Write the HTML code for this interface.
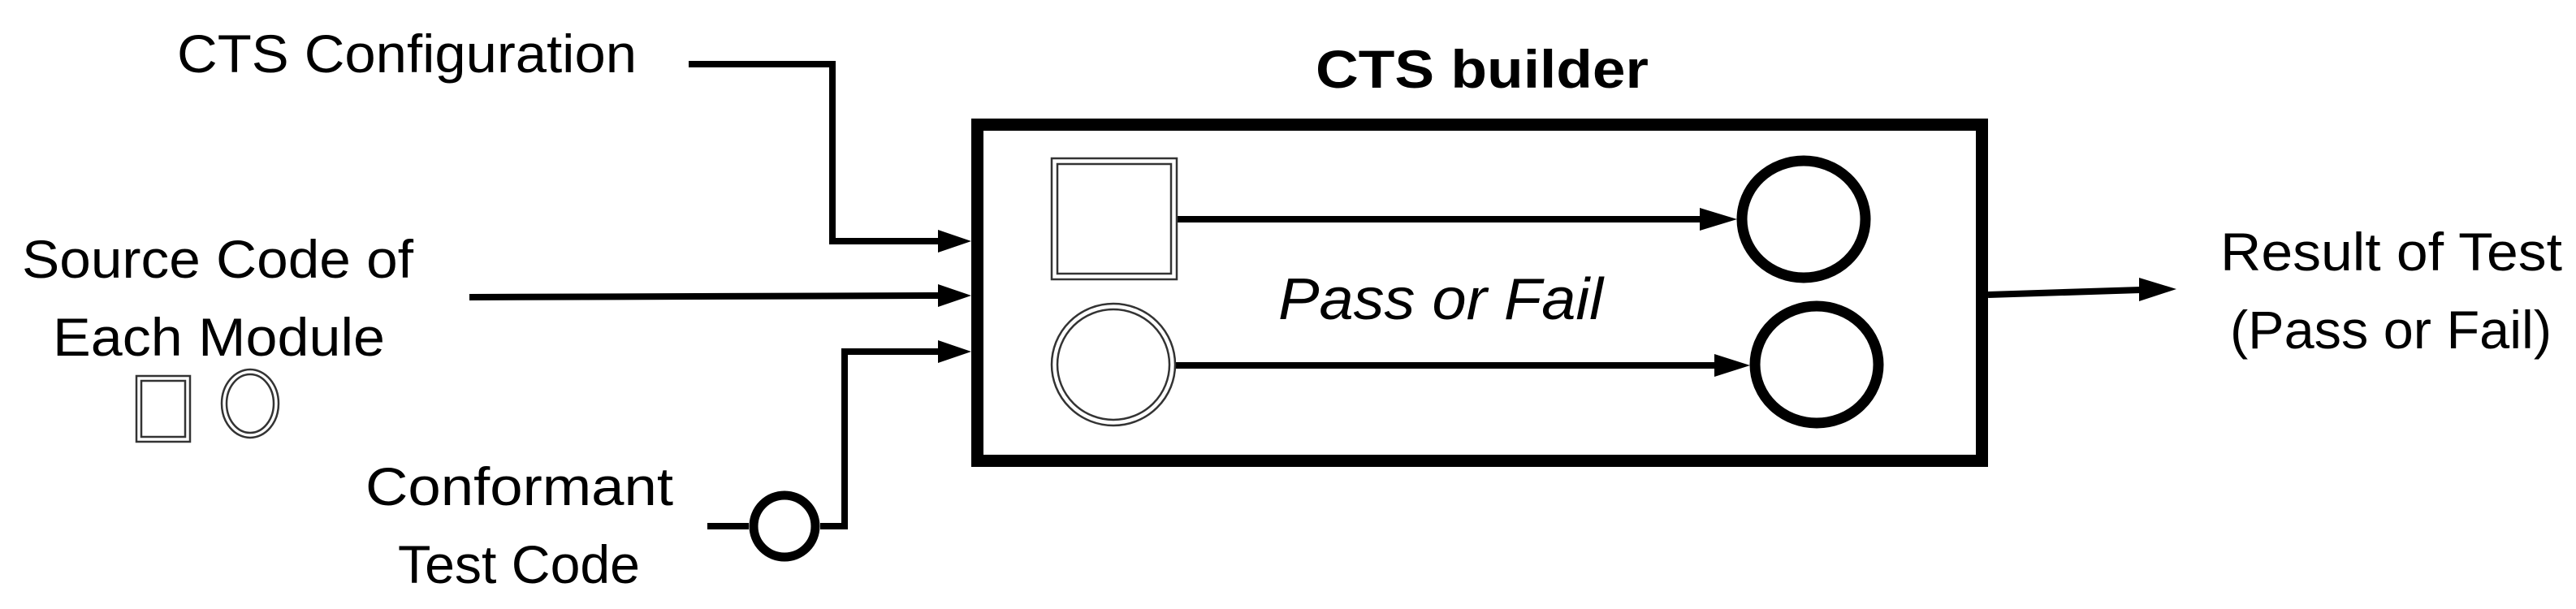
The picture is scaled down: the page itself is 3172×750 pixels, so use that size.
<!DOCTYPE html>
<html><head><meta charset="utf-8"><style>html,body{margin:0;padding:0;background:#fff}svg{display:block}</style></head>
<body>
<svg width="3172" height="750" viewBox="0 0 3172 750" xmlns="http://www.w3.org/2000/svg" font-family="'Liberation Sans', sans-serif">
<g fill="#000" font-size="66">
<text x="218" y="89" textLength="566" lengthAdjust="spacingAndGlyphs">CTS Configuration</text>
<text x="27" y="342" textLength="482" lengthAdjust="spacingAndGlyphs">Source Code of</text>
<text x="65" y="438" textLength="409" lengthAdjust="spacingAndGlyphs">Each Module</text>
<text x="450" y="622" textLength="379" lengthAdjust="spacingAndGlyphs">Conformant</text>
<text x="490" y="718" textLength="298" lengthAdjust="spacingAndGlyphs">Test Code</text>
<text x="1620" y="108" font-weight="bold" textLength="410" lengthAdjust="spacingAndGlyphs">CTS builder</text>
<text x="1574" y="393" font-style="italic" font-size="72" textLength="400" lengthAdjust="spacingAndGlyphs">Pass or Fail</text>
<text x="2734" y="333" textLength="421" lengthAdjust="spacingAndGlyphs">Result of Test</text>
<text x="2746" y="429" textLength="396" lengthAdjust="spacingAndGlyphs">(Pass or Fail)</text>
</g>
<g fill="none" stroke="#000" stroke-width="8">
<polyline points="848,79 1025,79 1025,297 1160,297"/>
<line x1="578" y1="366" x2="1160" y2="364"/>
<polyline points="1010,648 1040,648 1040,433 1160,433"/>
<line x1="871" y1="648" x2="922" y2="648"/>
<line x1="1450" y1="270" x2="2095" y2="270"/>
<line x1="1448" y1="450" x2="2113" y2="450"/>
<line x1="2448" y1="363" x2="2636" y2="357"/>
</g>
<g fill="#000">
<polygon points="1155,283 1196,297 1155,311"/>
<polygon points="1155,350 1196,364 1155,378"/>
<polygon points="1155,419 1196,433 1155,447"/>
<polygon points="2093,256 2139,270 2093,284"/>
<polygon points="2111,436 2155,450 2111,464"/>
<polygon points="2634,342 2680,356 2634,371"/>
</g>
<rect x="1203.5" y="153.5" width="1237" height="414" fill="none" stroke="#000" stroke-width="15"/>
<ellipse cx="966" cy="648" rx="38" ry="38" fill="#fff" stroke="#000" stroke-width="11"/>
<ellipse cx="2221" cy="270" rx="76" ry="72" fill="none" stroke="#000" stroke-width="13"/>
<ellipse cx="2237" cy="449" rx="76" ry="72" fill="none" stroke="#000" stroke-width="13"/>
<g fill="none" stroke="#333" stroke-width="2.5">
<rect x="1295" y="195" width="154" height="149"/>
<rect x="1302" y="202" width="140" height="135"/>
<ellipse cx="1371" cy="449" rx="76" ry="75"/>
<ellipse cx="1371" cy="449" rx="69" ry="68"/>
<rect x="168" y="463" width="66" height="81"/>
<rect x="174" y="469" width="54" height="69"/>
<ellipse cx="308" cy="497" rx="35" ry="42"/>
<ellipse cx="308" cy="497" rx="29" ry="36"/>
</g>
</svg>
</body></html>
